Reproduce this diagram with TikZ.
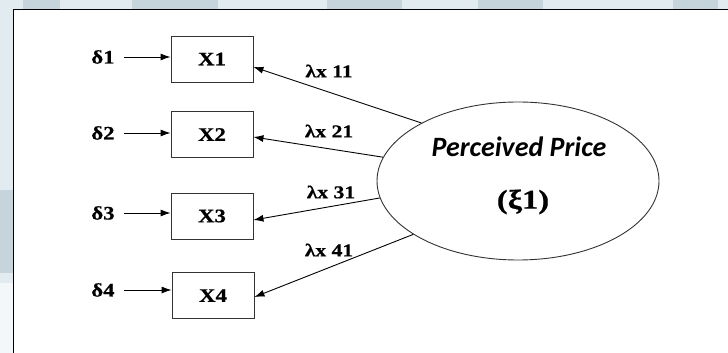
\documentclass[tikz,border=0pt]{standalone}
\usepackage{fontspec}
\setmainfont{Liberation Serif}
\newfontfamily\lblfont[FakeStretch=1.2,FakeBold=0.6]{Liberation Serif}
\newfontfamily\titlefont{Carlito}
\usetikzlibrary{arrows.meta,shapes.geometric}
\definecolor{stripdark}{HTML}{C6D4DB}
\definecolor{striplight}{HTML}{E2EBEF}
\definecolor{edgegray}{HTML}{333333}
\begin{document}
\begin{tikzpicture}[x=1pt,y=1pt,
  indicator/.style={draw=edgegray,line width=0.9pt,minimum width=82pt,minimum height=46pt,inner sep=0pt,
    font=\lblfont\fontsize{19}{19}\selectfont\bfseries},
  errlabel/.style={inner sep=0pt,font=\lblfont\fontsize{19}{19}\selectfont\bfseries},
  loadlabel/.style={inner sep=0pt,font=\lblfont\fontsize{18}{18}\selectfont\bfseries},
  latent/.style={ellipse,draw=edgegray,line width=0.9pt,minimum width=282pt,minimum height=158pt,inner sep=0pt},
  path arrow/.style={line width=0.9pt,-{Latex[length=10pt,width=7pt]}}]
\useasboundingbox (0,0) rectangle (728,353);
\fill[white] (0,0) rectangle (728,353);
% background strips above and left of the frame
\fill[striplight] (0,343) rectangle (728,353);
\foreach \a/\b in {23/60,132/218,327/402,478/543,673/718}
  \fill[stripdark] (\a,343) rectangle (\b,353);
\fill[striplight] (0,0) rectangle (13,343);
\fill[stripdark] (0,80) rectangle (13,163);
\fill[white!60!striplight] (0,0) rectangle (13,70);
% frame
\draw[line width=1.4pt,black] (13.5,0) -- (13.5,343.3) -- (728,343.3);

% observed indicators
\node[indicator] (x1) at (212,294) {X1};
\node[indicator] (x2) at (212,218.5) {X2};
\node[indicator] (x3) at (212,137) {X3};
\node[indicator] (x4) at (213,57.5) {X4};

% measurement errors
\node[errlabel] (d1) at (103,296) {δ1};
\node[errlabel] (d2) at (103,220) {δ2};
\node[errlabel] (d3) at (103,140) {δ3};
\node[errlabel] (d4) at (103,63) {δ4};
\foreach \i in {1,...,4}
  \draw[path arrow] ([xshift=9pt]d\i.east) -- (d\i.east -| x\i.west);

% latent construct
\node[latent] (xi) at (518,172) {};
\node[inner sep=0pt,font=\titlefont\fontsize{28}{28}\selectfont\bfseries\itshape] (name) at (519,206) {Perceived Price};
\node[inner sep=0pt,font=\lblfont\fontsize{27}{27}\selectfont\bfseries] (sym) at (523,151) {(ξ1)};

% factor loadings
\draw[path arrow] (xi.149.5) -- ([yshift=-8pt]x1.east);
\draw[path arrow] (xi.170.7) -- ([yshift=-2.5pt]x2.east);
\draw[path arrow] (xi.187.7) -- ([yshift=-4pt]x3.east);
\draw[path arrow] (xi.207) -- ([yshift=-1.5pt]x4.east);
\node[loadlabel] (l1) at (329,282) {λx 11};
\node[loadlabel] (l2) at (329,222) {λx 21};
\node[loadlabel] (l3) at (331,161) {λx 31};
\node[loadlabel] (l4) at (329,103) {λx 41};
\end{tikzpicture}
\end{document}
